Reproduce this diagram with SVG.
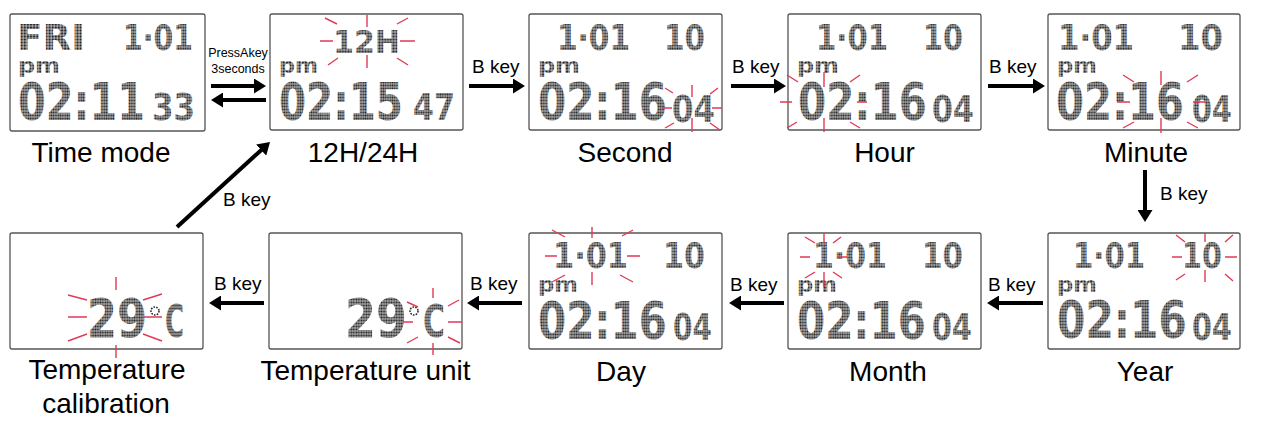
<svg xmlns="http://www.w3.org/2000/svg" width="1264" height="428" viewBox="0 0 1264 428">
<defs>
<pattern id="dots" width="3" height="3" patternUnits="userSpaceOnUse">
<rect x="0.3" y="0.3" width="2.4" height="2.4" fill="#262626"/>
</pattern>
<marker id="ah" viewBox="0 0 12 15" markerWidth="12" markerHeight="15" markerUnits="userSpaceOnUse" refX="1" refY="7.5" orient="auto">
<path d="M0,0 L12,7.5 L0,15 z" fill="#000"/>
</marker>
</defs>
<style>
.box{fill:#fff;stroke:#555;stroke-width:1.3}
.lcd{font-family:"DejaVu Sans","Liberation Sans",sans-serif;font-weight:bold;fill:url(#dots)}
.f36{font-size:36px}.f21{font-size:21px}.f52{font-size:52px}.f38{font-size:38px}
.lbl{font-family:"Liberation Sans",Arial,sans-serif;font-size:28px;fill:#000;text-anchor:middle}
.key{font-family:"Liberation Sans",Arial,sans-serif;font-size:19px;fill:#000}
.small{font-family:"Liberation Sans",Arial,sans-serif;font-size:12.5px;fill:#000;text-anchor:middle}
.burst{fill:none;stroke:#e23a55;stroke-width:1.4}
.arr{stroke:#000;stroke-width:4;fill:none;marker-end:url(#ah)}
.deg{fill:none;stroke:#2e2e2e;stroke-width:1.6;stroke-dasharray:1.6 1.2}
</style>
<rect width="1264" height="428" fill="#fff"/>

<g id="time-mode">
<rect class="box" x="10" y="14" width="195" height="117" rx="2"/>
<text class="lcd f36" transform="matrix(1.035 0 0 1 17 50)">FRI</text>
<text class="lcd f36" transform="matrix(0.788 0 0 1 123 50)">1·01</text>
<text class="lcd f21" transform="matrix(1.14 0 0 1 18 73)">pm</text>
<text class="lcd f52" transform="matrix(0.767 0 0 1 18 120)">02:11</text>
<text class="lcd f38" transform="matrix(0.813 0 0 1 152 120)">33</text>
<text class="lbl" x="101" y="162">Time mode</text>
</g>

<g id="mode-12h24h">
<rect class="box" x="270" y="14" width="193" height="116" rx="2"/>
<text class="lcd" font-size="32" transform="matrix(0.94 0 0 1 333 53)">12H</text>
<text class="lcd f21" transform="matrix(1.057 0 0 1 279 73)">pm</text>
<text class="lcd f52" transform="matrix(0.749 0 0 1 279 120)">02:15</text>
<text class="lcd f38" transform="matrix(0.794 0 0 1 413 120)">47</text>
<path class="burst" d="M320 41H333 M400 41H415 M367 15V27 M367 55V68 M325 18L337 24 M397 24L408 18 M328 65L338 58 M397 58L408 65"/>
<text class="lbl" x="363" y="162">12H/24H</text>
</g>

<g id="second">
<rect class="box" x="529" y="14" width="193" height="116" rx="2"/>
<text class="lcd f36" transform="matrix(0.822 0 0 1 557 50)">1·01</text>
<text class="lcd f36" transform="matrix(0.818 0 0 1 664 50)">10</text>
<text class="lcd f21" transform="matrix(1.14 0 0 1 538 73)">pm</text>
<text class="lcd f52" transform="matrix(0.779 0 0 1 538 120)">02:16</text>
<text class="lcd f38" transform="matrix(0.813 0 0 1 672 122)">04</text>
<path class="burst" d="M662 108H672 M712 108H722 M692 85V97 M692 118V132 M665 88L673 93 M710 94L718 88 M665 128L674 123 M710 123L720 130"/>
<text class="lbl" x="625" y="162">Second</text>
</g>

<g id="hour">
<rect class="box" x="788" y="14" width="193" height="116" rx="2"/>
<text class="lcd f36" transform="matrix(0.811 0 0 1 816 50)">1·01</text>
<text class="lcd f36" transform="matrix(0.798 0 0 1 923 50)">10</text>
<text class="lcd f21" transform="matrix(1.14 0 0 1 797 73)">pm</text>
<text class="lcd f52" transform="matrix(0.779 0 0 1 798 120)">02:16</text>
<text class="lcd f38" transform="matrix(0.794 0 0 1 932 122)">04</text>
<path class="burst" d="M780 102H792 M857 102H867 M824 72V87 M824 118V132 M787 75L798 82 M850 82L860 75 M787 128L797 122 M850 122L860 128"/>
<text class="lbl" x="884.5" y="162">Hour</text>
</g>

<g id="minute">
<rect class="box" x="1048" y="14" width="192" height="116" rx="2"/>
<text class="lcd f36" transform="matrix(0.856 0 0 1 1058 50)">1·01</text>
<text class="lcd f36" transform="matrix(0.898 0 0 1 1178 50)">10</text>
<text class="lcd f21" transform="matrix(1.084 0 0 1 1057 73)">pm</text>
<text class="lcd f52" transform="matrix(0.773 0 0 1 1056 120)">02:16</text>
<text class="lcd f38" transform="matrix(0.756 0 0 1 1192 122)">04</text>
<path class="burst" d="M1117 102H1130 M1193 102H1205 M1161 71V85 M1161 118V133 M1123 75L1134 82 M1187 82L1198 75 M1123 128L1134 122 M1187 122L1198 128"/>
<text class="lbl" x="1146" y="162">Minute</text>
</g>

<g id="year">
<rect class="box" x="1048" y="233" width="192" height="116" rx="2"/>
<text class="lcd f36" transform="matrix(0.811 0 0 1 1073 268)">1·01</text>
<text class="lcd f36" transform="matrix(0.798 0 0 1 1182 268)">10</text>
<text class="lcd f21" transform="matrix(1.084 0 0 1 1057 292)">pm</text>
<text class="lcd f52" transform="matrix(0.785 0 0 1 1057 338)">02:16</text>
<text class="lcd f38" transform="matrix(0.756 0 0 1 1192 340)">04</text>
<path class="burst" d="M1172 257H1182 M1225 257H1237 M1205 233V242 M1205 270V282 M1176 235L1185 242 M1225 242L1233 235 M1176 280L1185 274 M1225 274L1233 281"/>
<text class="lbl" x="1145" y="381">Year</text>
</g>

<g id="month">
<rect class="box" x="788" y="233" width="193" height="116" rx="2"/>
<text class="lcd f36" transform="matrix(0.833 0 0 1 813 268)">1·01</text>
<text class="lcd f36" transform="matrix(0.818 0 0 1 922 268)">10</text>
<text class="lcd f21" transform="matrix(1.084 0 0 1 797 292)">pm</text>
<text class="lcd f52" transform="matrix(0.779 0 0 1 797 339)">02:16</text>
<text class="lcd f38" transform="matrix(0.756 0 0 1 932 340)">04</text>
<path class="burst" d="M800 257H810 M837 257H847 M824 233V243 M824 272V287 M805 237L815 243 M833 243L841 237 M805 278L815 272 M833 272L842 278"/>
<text class="lbl" x="888" y="381">Month</text>
</g>

<g id="day">
<rect class="box" x="529" y="233" width="193" height="116" rx="2"/>
<text class="lcd f36" transform="matrix(0.845 0 0 1 553 268)">1·01</text>
<text class="lcd f36" transform="matrix(0.838 0 0 1 663 268)">10</text>
<text class="lcd f21" transform="matrix(1.084 0 0 1 538 292)">pm</text>
<text class="lcd f52" transform="matrix(0.779 0 0 1 538 339)">02:16</text>
<text class="lcd f38" transform="matrix(0.737 0 0 1 673 340)">04</text>
<path class="burst" d="M545 256H557 M627 256H640 M592 227V238 M592 272V285 M552 230L565 237 M622 236L633 230 M552 282L565 275 M620 275L633 282"/>
<text class="lbl" x="621" y="381">Day</text>
</g>

<g id="temperature-unit">
<rect class="box" x="269" y="233" width="193" height="116" rx="2"/>
<text class="lcd" font-size="53" transform="matrix(0.84 0 0 1 345 337)">29</text>
<circle class="deg" cx="414" cy="311" r="4"/>
<text class="lcd" font-size="44" transform="matrix(0.68 0 0 1 423 337)">C</text>
<path class="burst" d="M403 322H413 M448 322H462 M433 288V298 M433 343V355 M407 302L418 307 M448 306L459 300 M407 343L418 337 M448 337L460 343"/>
<text class="lbl" x="365.5" y="380">Temperature unit</text>
</g>

<g id="temperature-calibration">
<rect class="box" x="10" y="233" width="193" height="116" rx="2"/>
<text class="lcd" font-size="53" transform="matrix(0.813 0 0 1 87 337)">29</text>
<circle class="deg" cx="155" cy="311" r="4"/>
<text class="lcd" font-size="44" transform="matrix(0.59 0 0 1 165 337)">C</text>
<path class="burst" d="M68 317H87 M143 317H162 M116 277V290 M116 345V358 M68 295L87 300 M143 300L162 294 M68 341L87 334 M143 334L162 341"/>
<text class="lbl" x="107" y="379">Temperature</text>
<text class="lbl" x="106" y="413">calibration</text>
</g>

<g id="connectors">
<line class="arr" x1="211" y1="86" x2="255" y2="86"/>
<line class="arr" x1="266" y1="100" x2="222" y2="100"/>
<text class="small" x="238" y="57">PressAkey</text>
<text class="small" x="238" y="73">3seconds</text>
<line class="arr" x1="469" y1="86" x2="514" y2="86"/>
<text class="key" x="472" y="73">B key</text>
<line class="arr" x1="731" y1="86" x2="775" y2="86"/>
<text class="key" x="732" y="73">B key</text>
<line class="arr" x1="988" y1="86" x2="1034" y2="86"/>
<text class="key" x="989" y="73">B key</text>
<line class="arr" x1="1145" y1="170" x2="1145" y2="211"/>
<text class="key" x="1160" y="200">B key</text>
<line class="arr" x1="1043" y1="303" x2="998" y2="303"/>
<text class="key" x="988" y="291">B key</text>
<line class="arr" x1="784" y1="303" x2="740" y2="303"/>
<text class="key" x="730" y="291">B key</text>
<line class="arr" x1="522" y1="303" x2="478" y2="303"/>
<text class="key" x="470" y="290">B key</text>
<line class="arr" x1="264" y1="303" x2="220" y2="303"/>
<text class="key" x="214" y="290">B key</text>
<line class="arr" x1="177" y1="227" x2="261.9" y2="149.4"/>
<text class="key" x="223" y="206">B key</text>
</g>
</svg>
